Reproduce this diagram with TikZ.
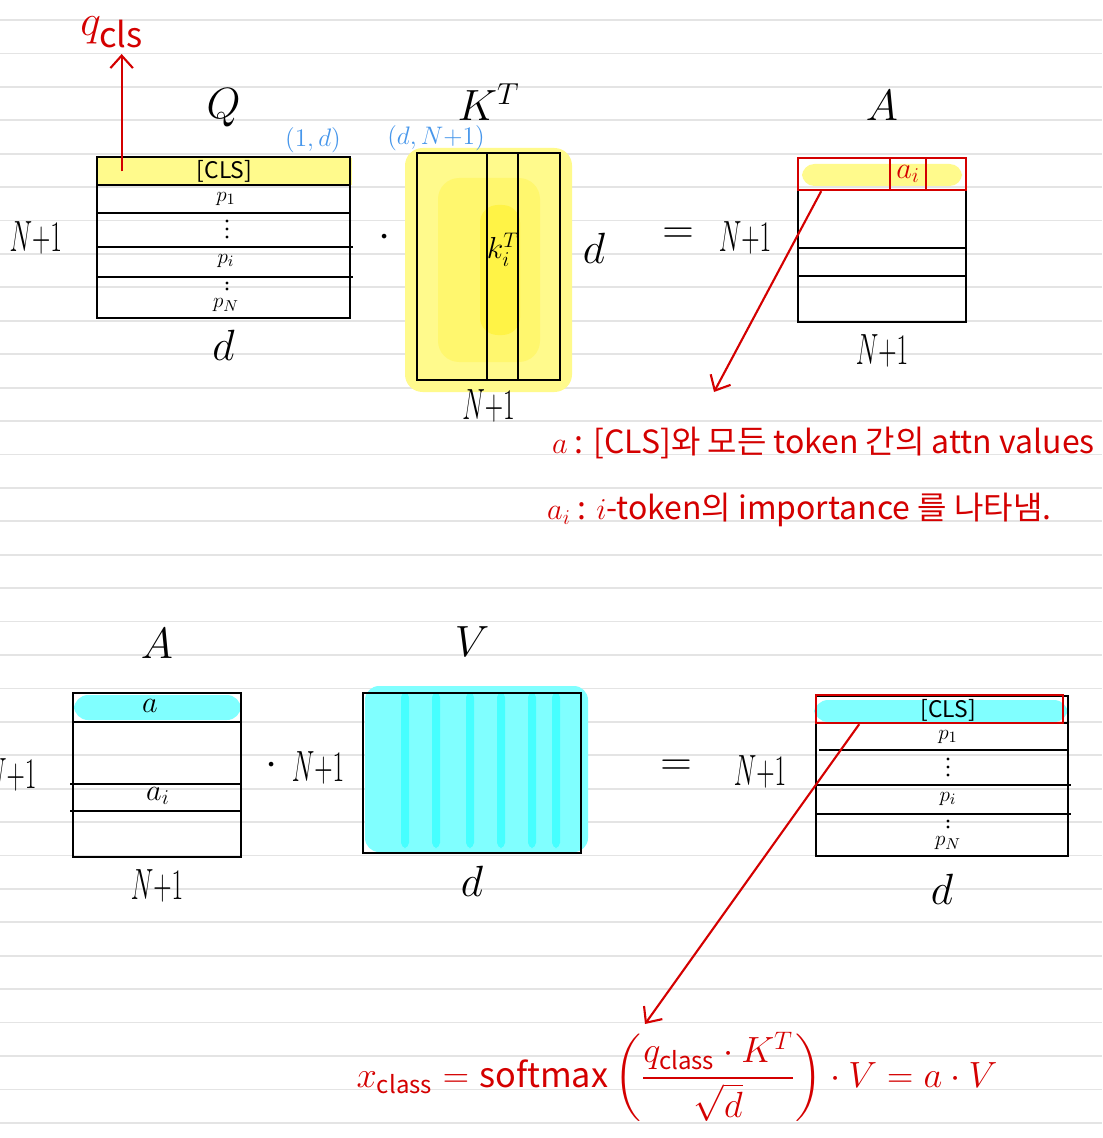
\documentclass[tikz,border=0pt]{standalone}
\usepackage{amsmath}
\usepackage{graphicx}
\usepackage{fontspec}
\setmainfont{Noto Sans CJK KR}
\usepackage{xcolor}
\usepackage{tikz}
\usetikzlibrary{arrows.meta,positioning,calc,fit}
\definecolor{pen}{RGB}{212,0,0}
\definecolor{sizeblue}{RGB}{70,150,235}
\definecolor{paperline}{RGB}{228,228,228}
\definecolor{hlyel}{RGB}{255,250,140}
\definecolor{hlyelmid}{RGB}{255,247,110}
\definecolor{hlyeldeep}{RGB}{255,243,70}
\definecolor{hlcyan}{RGB}{128,255,255}
\definecolor{hlcyandeep}{RGB}{70,255,255}
\newcommand{\Nplus}{\scalebox{0.58}[1]{$N{+}1$}}
\tikzset{
  ruled/.style  = {draw=paperline, line width=1pt},
  mat/.style    = {rectangle, draw=black, line width=1.4pt, inner sep=0pt},
  rowln/.style  = {draw=black, line width=1.3pt},
  hlbox/.style  = {rectangle, draw=none, inner sep=0pt},
  redbox/.style = {rectangle, draw=pen, line width=1.3pt, inner sep=0pt},
  big/.style    = {font=\fontsize{24}{28}\selectfont},
  nlbl/.style   = {font=\fontsize{26}{30}\selectfont},
  cell/.style   = {font=\fontsize{13}{15}\selectfont, inner sep=0.5pt},
  mid/.style    = {font=\fontsize{17}{20}\selectfont, inner sep=1pt},
  shp/.style    = {text=sizeblue, font=\fontsize{14}{16}\selectfont},
  note/.style   = {text=pen, anchor=west, font=\fontsize{18.2}{22}\selectfont},
  form/.style   = {text=pen, inner sep=1pt, font=\fontsize{19.5}{23}\selectfont},
  redarr/.style = {-{Straight Barb[length=2.5mm, width=4.5mm]}, draw=pen, line width=1.2pt},
}

\begin{document}
\begin{tikzpicture}[x=0.02cm, y=-0.02cm]
    % ruled paper
    \useasboundingbox[fill=white] (0,0) rectangle (1102,1138);
    \foreach \k in {0,...,33}
      \draw[ruled] (0,20+33.42*\k) -- (1102,20+33.42*\k);

    % ===== Q . K^T = A =====
    \node[hlbox, fill=hlyel, fit={(97,158) (352,185)}] (Qcls) {};
    \node[mat, fit={(97,157) (350,318)}] (Q) {};
    \draw[rowln] (97,185) -- (350,185);
    \draw[rowln] (97,213) -- (350,213);
    \draw[rowln] (97,247) -- (353,247);
    \draw[rowln] (97,277) -- (353,277);
    \node[cell] (Qc) at (Qcls) {[CLS]};
    \node[cell] (Qp1) at (226,199) {$p_1$};
    \foreach \dy in {221,229,237} \fill (227,\dy) circle[radius=0.9pt];
    \node[cell] (Qpi) at (226,261) {$p_i$};
    \foreach \dy in {283,289} \fill (227,\dy) circle[radius=0.9pt];
    \node[cell] (QpN) at (226,305) {$p_N$};
    \node[big, above=4.5mm of Q] (Qt) {$Q$};
    \node[nlbl, left=5.5mm of Q] (Qn) {\Nplus};
    \node[big, below=1mm of Q] (Qd) {$d$};
    \node[shp] (Qsz) at (313,140) {$(1,d)$};
    % q_cls
    \node[text=pen, font=\fontsize{28}{32}\selectfont] (qcls) at (112,32) {$q_{\mathrm{cls}}$};
    \coordinate (qsrc) at ($(Qcls.west)+(25,0)$);
    \draw[redarr] (qsrc) -- (qsrc |- qcls.south);

    \node[big] (dot1) at (385,238) {$\cdot$};

    % K^T
    \fill[hlyel, rounded corners=10pt] (405,148) rectangle (572,392);
    \fill[hlyelmid, rounded corners=12pt] (438,178) rectangle (540,362);
    \fill[hlyeldeep, rounded corners=10pt] (480,205) rectangle (520,335);
    \node[mat, fit={(417,153) (560,380)}] (KT) {};
    \node[mat, fit={(487,153) (518,380)}] (kcol) {};
    \node[mid] (ki) at (503,250) {$k_i^T$};
    \node[big, above=5mm of KT] (KTt) {$K^T$};
    \node[nlbl, below=0.5mm of KT] (KTn) {\Nplus};
    \node[big] (KTd) at (594,248) {$d$};
    \node[shp] (KTsz) at (436,138) {$(d,N{+}1)$};

    \node[big] (eq1) at (678,236) {$=$};
    \node[nlbl] (An) at (745,238) {\Nplus};

    % A
    \fill[hlyel, rounded corners=7pt] (802,164) rectangle (962,186);
    \node[mat, fit={(798,158) (966,322)}] (A) {};
    \draw[rowln] (798,248) -- (966,248);
    \draw[rowln] (798,276) -- (966,276);
    \node[redbox, fit={(798,158) (966,190)}] (Arow) {};
    \node[redbox, fit={(890,158) (926,190)}] (aicell) {};
    \node[mid, text=pen] (ai) at (aicell) {$a_i$};
    \node[big, above=6mm of A] (At) {$A$};
    \node[nlbl, below=1mm of A] (Ad) {\Nplus};

    % a 설명
    \coordinate (aend) at (714,392);
    \draw[redarr] ($(Arow.south west)!0.143!(Arow.south east)$) -- (aend);
    \node[note] (n1) at (546,443) {$a$ : [CLS]와 모든 token 간의 attn values};
    \node[note] (n2) at (541,510) {$a_i$ : $i$-token의 importance 를 나타냄.};

    % ===== A . V =====
    \fill[hlcyan, rounded corners=8pt] (74,695) rectangle (241,720);
    \node[mat, fit={(73,693) (241,857)}] (A2) {};
    \draw[rowln] (73,722) -- (241,722);
    \draw[rowln] (70,784) -- (241,784);
    \draw[rowln] (70,811) -- (241,811);
    \node[mid] (a2) at (150,706) {$a$};
    \node[mid] (a2i) at (158,796) {$a_i$};
    \node[big, above=5.4mm of A2] (A2t) {$A$};
    \node[nlbl, below=1mm of A2] (A2d) {\Nplus};
    \node[nlbl, left=5.8mm of A2] (A2n) {\Nplus};

    \node[big] (dot2) at (272,766) {$\cdot$};
    \node[nlbl] (Vn) at (318,768) {\Nplus};

    % V
    \fill[hlcyan, rounded corners=8pt] (365,686) rectangle (588,852);
    \foreach \sx in {405,436,470,501,532,556}
      \fill[hlcyandeep, rounded corners=3pt] (\sx-4,692) rectangle (\sx+4,848);
    \node[mat, fit={(363,693) (581,853)}] (V) {};
    \node[big, above=5.8mm of V] (Vt) {$V$};
    \node[big, below=1.2mm of V] (Vd) {$d$};

    \node[big] (eq2) at (676,768) {$=$};
    \node[nlbl] (Rn) at (760,772) {\Nplus};

    % 결과
    \fill[hlcyan, rounded corners=8pt] (814,700) rectangle (1068,722);
    \node[mat, fit={(816,696) (1068,856)}] (R) {};
    \draw[rowln] (816,723) -- (1068,723);
    \draw[rowln] (819,750) -- (1068,750);
    \draw[rowln] (816,785) -- (1071,785);
    \draw[rowln] (816,814) -- (1071,814);
    \node[redbox, fit={(816,695) (1063,723)}] (Rrow) {};
    \node[cell] (Rc) at (948,710) {[CLS]};
    \node[cell] (Rp1) at (948,737) {$p_1$};
    \foreach \dy in {759,767,775} \fill (948,\dy) circle[radius=0.9pt];
    \node[cell] (Rpi) at (948,799) {$p_i$};
    \foreach \dy in {821,827} \fill (948,\dy) circle[radius=0.9pt];
    \node[cell] (RpN) at (948,843) {$p_N$};
    \node[big, below=2.2mm of R] (Rd) {$d$};

    \coordinate (rend) at (645,1024);
    \draw[redarr] ($(Rrow.south west)!0.178!(Rrow.south east)$) -- (rend);

    % 식
    \node[form] (xcls) at (677,1077) {$x_{\mathrm{class}} = \mathrm{softmax}\left(\dfrac{q_{\mathrm{class}}\cdot K^{T}}{\sqrt{d}}\right)\cdot V = a\cdot V$};
\end{tikzpicture}
\end{document}
